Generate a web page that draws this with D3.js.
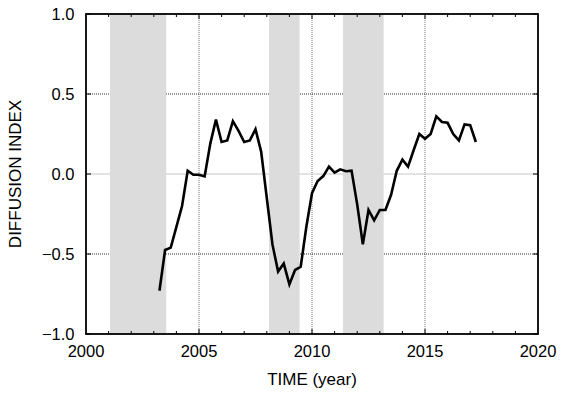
<!DOCTYPE html>
<html>
<head>
<meta charset="utf-8">
<script src="https://cdn.jsdelivr.net/npm/d3@7"></script>
<style>
  body { margin: 0; background: #fff; }
  text { font-family: "Liberation Sans", Arial, sans-serif; fill: #000; }
</style>
</head>
<body>
<script>
// quarterly observations
var times = [2003.25, 2003.5, 2003.75, 2004.0, 2004.25, 2004.5, 2004.75,
             2005.0, 2005.25, 2005.5, 2005.75, 2006.0, 2006.25, 2006.5, 2006.75,
             2007.0, 2007.25, 2007.5, 2007.75, 2008.0, 2008.25, 2008.5, 2008.75,
             2009.0, 2009.25, 2009.5, 2009.75, 2010.0, 2010.25, 2010.5, 2010.75,
             2011.0, 2011.25, 2011.5, 2011.75, 2012.0, 2012.25, 2012.5, 2012.75,
             2013.0, 2013.25, 2013.5, 2013.75, 2014.0, 2014.25, 2014.5, 2014.75,
             2015.0, 2015.25, 2015.5, 2015.75, 2016.0, 2016.25, 2016.5, 2016.75,
             2017.0, 2017.25];
var index = [-0.73, -0.475, -0.46, -0.33, -0.20, 0.02, -0.005,
             -0.005, -0.015, 0.19, 0.34, 0.20, 0.21, 0.33, 0.27,
             0.20, 0.21, 0.28, 0.14, -0.15, -0.44, -0.61, -0.56,
             -0.69, -0.60, -0.58, -0.33, -0.12, -0.044, -0.013, 0.046,
             0.008, 0.029, 0.017, 0.021, -0.19, -0.44, -0.225, -0.29,
             -0.225, -0.225, -0.13, 0.02, 0.09, 0.046, 0.15, 0.25,
             0.22, 0.25, 0.36, 0.325, 0.32, 0.25, 0.21, 0.31,
             0.305, 0.20];

// shaded periods (start, end)
var shadeStart = [2001.06, 2008.1, 2011.37];
var shadeEnd   = [2003.55, 2009.45, 2013.17];

var xTicks = [2000, 2005, 2010, 2015, 2020];
var xMinor = d3.range(2001, 2020);
var yTicks = [-1.0, -0.5, 0.0, 0.5, 1.0];

var width = 564, height = 395;
var pLeft = 86, pRight = 538, pTop = 14, pBottom = 334;

var x = d3.scaleLinear().domain([2000, 2020]).range([pLeft, pRight]);
var y = d3.scaleLinear().domain([-1, 1]).range([pBottom, pTop]);

var svg = d3.select("body").append("svg")
            .attr("width", width)
            .attr("height", height);

// grid
svg.selectAll("line.vgrid")
   .data(xTicks.slice(1, -1))
   .enter().append("line")
   .attr("x1", function(d) { return x(d); })
   .attr("x2", function(d) { return x(d); })
   .attr("y1", pTop).attr("y2", pBottom)
   .attr("stroke", "#777")
   .attr("stroke-dasharray", "1,1");

svg.selectAll("line.hgrid")
   .data(yTicks.slice(1, -1))
   .enter().append("line")
   .attr("x1", pLeft).attr("x2", pRight)
   .attr("y1", function(d) { return y(d); })
   .attr("y2", function(d) { return y(d); })
   .attr("stroke", function(d) { return d === 0 ? "#c8c8c8" : "#333"; })
   .attr("stroke-dasharray", function(d) { return d === 0 ? null : "1,1"; });

// shaded periods
svg.selectAll("rect.shade")
   .data(shadeStart)
   .enter().append("rect")
   .attr("x", function(d) { return x(d); })
   .attr("y", pTop)
   .attr("width", function(d, i) { return x(shadeEnd[i]) - x(d); })
   .attr("height", pBottom - pTop)
   .attr("fill", "#dcdcdc");

// ticks
var tk = svg.append("g").attr("stroke", "#000").attr("stroke-width", 1);
xMinor.forEach(function(d) {
  var len = xTicks.indexOf(d) >= 0 ? 5 : 3;
  tk.append("line").attr("x1", x(d)).attr("x2", x(d)).attr("y1", pBottom).attr("y2", pBottom - len);
  tk.append("line").attr("x1", x(d)).attr("x2", x(d)).attr("y1", pTop).attr("y2", pTop + len);
});
yTicks.forEach(function(d) {
  tk.append("line").attr("x1", pLeft).attr("x2", pLeft + 5).attr("y1", y(d)).attr("y2", y(d));
  tk.append("line").attr("x1", pRight).attr("x2", pRight - 5).attr("y1", y(d)).attr("y2", y(d));
});

// series
var line = d3.line()
  .x(function(d, i) { return x(times[i]); })
  .y(function(d) { return y(d); });

svg.append("path")
   .datum(index)
   .attr("d", line)
   .attr("fill", "none")
   .attr("stroke", "#000")
   .attr("stroke-width", 2.6)
   .attr("stroke-linejoin", "miter");

// frame
svg.append("rect")
   .attr("x", pLeft).attr("y", pTop)
   .attr("width", pRight - pLeft).attr("height", pBottom - pTop)
   .attr("fill", "none")
   .attr("stroke", "#000")
   .attr("stroke-width", 1.8);

// tick labels
svg.selectAll("text.xt")
   .data(xTicks)
   .enter().append("text")
   .attr("x", function(d) { return x(d); })
   .attr("y", 357)
   .attr("text-anchor", "middle")
   .attr("font-size", "16.5px")
   .text(function(d) { return d; });

svg.selectAll("text.yt")
   .data(yTicks)
   .enter().append("text")
   .attr("x", 74.5)
   .attr("y", function(d) { return y(d) + 6; })
   .attr("text-anchor", "end")
   .attr("font-size", "16.5px")
   .text(function(d) { return d3.format(".1f")(d); });

// axis titles
svg.append("text")
   .attr("x", (pLeft + pRight) / 2)
   .attr("y", 385)
   .attr("text-anchor", "middle")
   .attr("font-size", "17px")
   .text("TIME (year)");

svg.append("text")
   .attr("transform", "translate(21," + (pTop + pBottom) / 2 + ") rotate(-90)")
   .attr("text-anchor", "middle")
   .attr("font-size", "17px")
   .text("DIFFUSION INDEX");
</script>
</body>
</html>
